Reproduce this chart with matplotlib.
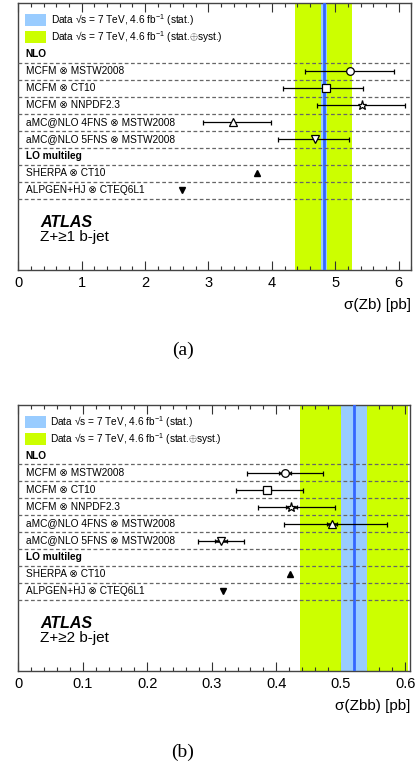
import matplotlib
matplotlib.use("Agg")
import matplotlib.pyplot as plt
from matplotlib.patches import Rectangle
from matplotlib.ticker import MultipleLocator
import matplotlib.transforms as mtransforms

plt.rcParams['font.family'] = ['Liberation Sans', 'DejaVu Sans']
plt.rcParams['mathtext.fontset'] = 'custom'
plt.rcParams['mathtext.rm'] = 'Liberation Sans'
plt.rcParams['mathtext.it'] = 'Liberation Sans:italic'
plt.rcParams['mathtext.bf'] = 'Liberation Sans:bold'

# ---------------- data ----------------
legend_labels = ["Data \u221as = 7 TeV, 4.6 fb$^{-1}$ (stat.)",
                 "Data \u221as = 7 TeV, 4.6 fb$^{-1}$ (stat.$\\oplus$syst.)"]
nlo_labels = ["MCFM \u2297 MSTW2008", "MCFM \u2297 CT10", "MCFM \u2297 NNPDF2.3",
              "aMC@NLO 4FNS \u2297 MSTW2008", "aMC@NLO 5FNS \u2297 MSTW2008"]
lo_labels = ["SHERPA \u2297 CT10", "ALPGEN+HJ \u2297 CTEQ6L1"]
nlo_markers = ['o', 's', '*', '^', 'v']
lo_markers = ['^', 'v']

# panel (a): Z + >=1 b-jet
a_data = 4.82
a_stat = (4.77, 4.87)
a_tot = (4.36, 5.27)
a_nlo = [5.23, 4.86, 5.42, 3.39, 4.68]
a_nlo_lo = [4.52, 4.17, 4.72, 2.92, 4.10]
a_nlo_hi = [5.93, 5.44, 6.10, 3.98, 5.22]
a_lo = [3.76, 2.58]

# panel (b): Z + >=2 b-jets
b_data = 0.520
b_stat = (0.500, 0.541)
b_tot = (0.437, 0.605)
b_nlo = [0.414, 0.386, 0.423, 0.486, 0.314]
b_nlo_lo = [0.354, 0.337, 0.371, 0.412, 0.279]
b_nlo_hi = [0.472, 0.441, 0.491, 0.572, 0.350]
b_nlo_in_lo = [0.405, 0.380, 0.415, 0.478, 0.305]
b_nlo_in_hi = [0.423, 0.392, 0.432, 0.495, 0.323]
b_lo = [0.422, 0.317]

GREEN = '#ccff00'
LBLUE = '#99ccff'
BLUE = '#3366ff'

fig = plt.figure(figsize=(4.2, 7.66), dpi=100)

def draw_panel(ax, xmax, major, minor, data, stat, tot, cent, lo, hi,
               in_lo, in_hi, lo_vals, xlabel, tag, sublabel, fig_y_tag):
    ax.set_xlim(0, xmax)
    ax.set_ylim(15.7, 0)
    ax.axvspan(tot[0], tot[1], color=GREEN, lw=0, zorder=1)
    ax.axvspan(stat[0], stat[1], color=LBLUE, lw=0, zorder=2)
    ax.axvline(data, color=BLUE, lw=2.0, zorder=3)
    for yl in [3.5 + i for i in range(9)]:
        ax.axhline(yl, color='#666666', lw=0.9, ls=(0, (3, 2)), zorder=4)

    tr = mtransforms.blended_transform_factory(ax.transAxes, ax.transData)
    xl = 0.019
    # legend
    cols = [LBLUE, GREEN]
    for i, (lab, c) in enumerate(zip(legend_labels, cols)):
        y = 1.0 + i
        ax.add_patch(Rectangle((0.017, y - 0.36), 0.053, 0.72, transform=tr,
                               facecolor=c, edgecolor='none', zorder=5))
        ax.text(0.082, y, lab, transform=tr, fontsize=7.3, va='center', zorder=6)
    ax.text(xl, 3.0, "NLO", transform=tr, fontsize=7.3, fontweight='bold', va='center')
    for i, lab in enumerate(nlo_labels):
        ax.text(xl, 4.0 + i, lab, transform=tr, fontsize=7.3, va='center', zorder=6)
    ax.text(xl, 9.0, "LO multileg", transform=tr, fontsize=7.3, fontweight='bold', va='center')
    for i, lab in enumerate(lo_labels):
        ax.text(xl, 10.0 + i, lab, transform=tr, fontsize=7.3, va='center', zorder=6)

    for i, (c, l, h, m) in enumerate(zip(cent, lo, hi, nlo_markers)):
        y = 4.0 + i
        ax.errorbar([c], [y], xerr=[[c - l], [h - c]], fmt='none', ecolor='black',
                    elinewidth=0.9, capsize=1.8, capthick=0.9, zorder=7)
        if in_lo is not None:
            ax.errorbar([c], [y], xerr=[[c - in_lo[i]], [in_hi[i] - c]], fmt='none',
                        ecolor='black', elinewidth=1.8, capsize=1.2, capthick=0.9, zorder=7)
        ms = 6.8 if m == '*' else 5.5
        ax.plot([c], [y], marker=m, ms=ms, mfc='white', mec='black', mew=0.9,
                ls='none', zorder=8)
    for i, (v, m) in enumerate(zip(lo_vals, lo_markers)):
        ax.plot([v], [10.0 + i], marker=m, ms=5, mfc='black', mec='black',
                ls='none', zorder=8)

    ax.text(0.055, 12.9, "ATLAS", transform=tr, fontsize=11.5, fontweight='bold',
            fontstyle='italic', va='center')
    ax.text(0.055, 13.75, sublabel, transform=tr, fontsize=11, va='center')

    ax.xaxis.set_major_locator(MultipleLocator(major))
    ax.xaxis.set_minor_locator(MultipleLocator(minor))
    ax.tick_params(axis='x', which='both', direction='in', top=True, bottom=True,
                   labelsize=10.5, pad=4, color='#333333')
    ax.tick_params(axis='x', which='major', length=6.5, width=0.8)
    ax.tick_params(axis='x', which='minor', length=3, width=0.8)
    ax.tick_params(axis='y', left=False, right=False, labelleft=False)
    for s in ax.spines.values():
        s.set_color('#444444')
        s.set_linewidth(1.0)
    ax.set_xlabel(xlabel, fontsize=11, loc='right', labelpad=6)
    fig.text(183 / 420, fig_y_tag, tag, family='Liberation Serif', fontsize=14,
             ha='center', va='center')

ax1 = fig.add_axes([18.3 / 420, 1 - 270 / 766, 393 / 420, 266.7 / 766])
draw_panel(ax1, 6.2, 1, 0.2, a_data, a_stat, a_tot, a_nlo, a_nlo_lo, a_nlo_hi,
           None, None, a_lo, "\u03c3(Zb) [pb]", "(a)", "Z+\u22651 b-jet", 1 - 350 / 766)

ax2 = fig.add_axes([18.3 / 420, 1 - 671 / 766, 391.7 / 420, 266 / 766])
draw_panel(ax2, 0.6075, 0.1, 0.02, b_data, b_stat, b_tot, b_nlo, b_nlo_lo, b_nlo_hi,
           b_nlo_in_lo, b_nlo_in_hi, b_lo, "\u03c3(Zbb) [pb]", "(b)", "Z+\u22652 b-jet",
           1 - 752 / 766)
ax2.set_xticks([0, 0.1, 0.2, 0.3, 0.4, 0.5, 0.6])
ax2.set_xticklabels(["0", "0.1", "0.2", "0.3", "0.4", "0.5", "0.6"])

fig.savefig("out.png", dpi=100)
